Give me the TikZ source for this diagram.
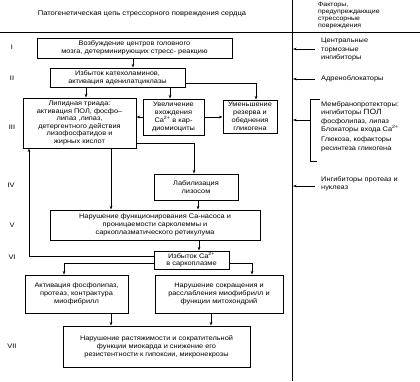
\documentclass[tikz,border=0pt]{standalone}
\usepackage{fontspec}
\setmainfont{Liberation Sans}[FakeStretch=1.12]
\usetikzlibrary{arrows.meta}
\begin{document}
\begin{tikzpicture}[x=1pt,y=-1pt,
  box/.style={draw, line width=0.9pt, align=center, inner sep=0pt,
    font=\fontsize{6.6}{7.9}\selectfont},
  arr/.style={-{Stealth[length=3.6pt,width=2.6pt]}, line width=0.55pt},
  ln/.style={line width=0.55pt},
  rtext/.style={align=left, inner sep=0pt, anchor=north west,
    font=\fontsize{6.6}{8.6}\selectfont},
  roman/.style={inner sep=0pt, font=\fontsize{6.6}{8}\selectfont}]
\useasboundingbox (0,0) rectangle (420,381);
% frame lines
\draw[line width=0.8pt] (0,32) -- (420,32);
\draw[line width=0.7pt] (292,0) -- (292,381);
% headers
\node[inner sep=0pt, font=\fontsize{6.8}{8}\selectfont] (h1) at (142,14)
  {Патогенетическая цепь стрессорного повреждения сердца};
\node[rtext, font=\fontsize{6.2}{7}\selectfont] (h2) at (318,2)
  {Факторы,\\предупреждающие\\стрессорные\\повреждения};
% roman numerals
\node[roman] (r1) at (12,47) {I};
\node[roman] (r2) at (12,78) {II};
\node[roman] (r3) at (12,127) {III};
\node[roman] (r4) at (11,185) {IV};
\node[roman] (r5) at (12,225) {V};
\node[roman] (r6) at (12,257) {VI};
\node[roman] (r7) at (12,346) {VII};
% boxes
\node[box, minimum width=195, minimum height=20] (I) at (134.5,48)
  {Возбуждение центров головного\\мозга, детерминирующих стресс- реакцию};
\node[box, minimum width=135, minimum height=19] (II) at (117.5,77.5)
  {Избыток катехоламинов,\\активация аденилатциклазы};
\node[box, minimum width=113, minimum height=50, font=\fontsize{6.6}{7.6}\selectfont] (Lip) at (79.5,123)
  {Липидная триада:\\активация ПОЛ, фосфо–\\липаз ,липаз,\\детергентного действия\\лизофосфатидов и\\жирных кислот};
\node[box, minimum width=61, minimum height=36] (Uv) at (173.5,117)
  {Увеличение\\вхождения\\Ca\textsuperscript{2+} в кар-\\диомиоциты};
\node[box, minimum width=54, minimum height=33] (Um) at (250,116.5)
  {Уменьшение\\резерва и\\обеднения\\гликогена};
\node[box, minimum width=84, minimum height=26] (Lab) at (196,187)
  {Лабилизация\\лизосом};
\node[box, minimum width=210, minimum height=30] (V) at (155,225)
  {Нарушение функционирования Са-насоса и\\проницаемости сарколеммы и\\саркоплазматического ретикулума};
\node[box, minimum width=75, minimum height=18, font=\fontsize{6.6}{7}\selectfont] (Iz) at (191.5,260)
  {Избыток Ca\textsuperscript{2+}\\в саркоплазме};
\node[box, minimum width=103, minimum height=38] (Ak) at (76.5,294)
  {Активация фосфолипаз,\\протеаз, контрактура\\миофибрилл};
\node[box, minimum width=128, minimum height=38] (Ns) at (219,294)
  {Нарушение сокращения и\\расслабления миофибрилл и\\функции митохондрий};
\node[box, minimum width=187, minimum height=41] (VII) at (156.5,346.5)
  {Нарушение растяжимости и сократительной\\функции миокарда и снижение его\\резистентности к гипоксии, микронекрозы};
% connectors
\draw[arr] (133,0 |- I.south) -- (133,0 |- II.north);
\draw[arr] (86,0 |- II.south) -- (86,0 |- Lip.north);
\draw[arr] (170,0 |- II.south) -- (170,0 |- Uv.north);
\draw[arr] (II.east |- 0,83) -| (256,0 |- Um.north);
\draw[arr] (Uv.west |- 0,117) -- (Lip.east |- 0,117);
\draw[arr] (Uv.east |- 0,117) -- (Um.west |- 0,117);
\draw[arr] (111,0 |- Lip.south) -- (111,0 |- V.north);
\draw[arr] (Lip.east |- 0,143) -| (194,0 |- Lab.north);
\draw[arr] (198,0 |- Lab.south) -- (198,0 |- V.north);
\draw[arr] (199,0 |- V.south) -- (199,0 |- Iz.north);
\draw[arr] (Iz.west |- 0,256) -| (29,0 |- Lip.south);
\draw[arr] (Iz.west |- 0,263) -| (64,0 |- Ak.north);
\draw[arr] (Iz.east |- 0,263) -| (252,0 |- Ns.north);
\draw[arr] (111,0 |- Ak.south) -- (111,0 |- VII.north);
\draw[arr] (211,0 |- Ns.south) -- (211,0 |- VII.north);
% right column
\node[rtext] (f1) at (321,38) {Центральные\\тормозные\\ингибиторы};
\node[rtext, anchor=west] (f2) at (321,79) {Адреноблокаторы};
\node[rtext] (f3) at (321,101) {Мембранопротекторы:\\ингибиторы {\fontsize{7.6}{8}\selectfont ПОЛ}\\фосфолипаз, липаз\\Блокаторы входа Ca\textsuperscript{2+}\\[1pt]Глюкоза, кофакторы\\ресинтеза гликогена};
\node[rtext] (f4) at (321,176) {Ингибиторы протеаз и\\нуклеаз};
\coordinate (a1) at (293,49);
\coordinate (a2) at (293,79);
\coordinate (a3) at (293,120);
\coordinate (a4) at (293,186);
\draw[arr] (315,0 |- a1) -- (a1);
\draw[arr] (315,0 |- a2) -- (a2);
\draw[arr] (310,0 |- a3) -- (a3);
\draw[arr] (315,0 |- a4) -- (a4);
\draw[ln] (320,99) -- (310,99) -- (310,161) -- (317,161);
\end{tikzpicture}
\end{document}
